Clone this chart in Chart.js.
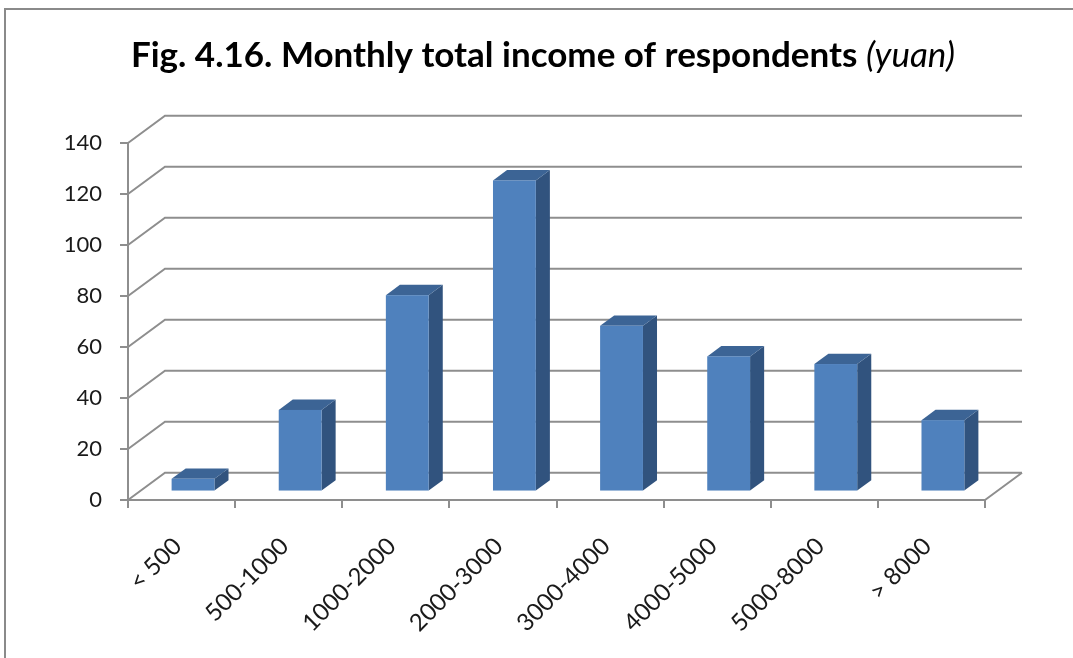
<!DOCTYPE html>
<html>
<head>
<meta charset="utf-8">
<script src="https://cdn.jsdelivr.net/npm/chart.js@4/dist/chart.umd.min.js"></script>
<style>
  html, body { margin: 0; padding: 0; background: #ffffff; }
  canvas { display: block; }
</style>
</head>
<body>
<canvas id="incomeChart" width="1073" height="658"></canvas>
<script>
// Monthly total income bands and respondent counts
const incomeBands = ['< 500', '500-1000', '1000-2000', '2000-3000', '3000-4000', '4000-5000', '5000-8000', '> 8000'];
const respondents = [5, 32, 77, 122, 65, 53, 50, 28];
const valueTicks = [0, 20, 40, 60, 80, 100, 120, 140];
const titleMain = 'Fig. 4.16. Monthly total income of respondents';
const titleUnit = '(yuan)';

// Oblique projection used for the walls, floor and bar boxes
const DEPTH = { dx: 37, dy: -27.3 };
const BAR_FRONT = 0.31;
const BAR_BACK = 0.69;
const GRID_COLOR = '#8e8e8e';
const FACE_FRONT = '#4f81bd';
const FACE_TOP = '#3c6495';
const FACE_SIDE = '#31537e';
const LABEL_FONT = 'Lato, "Open Sans", "DejaVu Sans", sans-serif';

const frame = {
  id: 'frame',
  beforeDraw(chart) {
    const ctx = chart.ctx;
    ctx.save();
    ctx.strokeStyle = '#8a8a8a';
    ctx.lineWidth = 2;
    ctx.beginPath();
    ctx.moveTo(5, 700);
    ctx.lineTo(5, 9);
    ctx.lineTo(1100, 9);
    ctx.stroke();
    ctx.restore();
  }
};

const walls = {
  id: 'walls',
  beforeDatasetsDraw(chart) {
    const { ctx, chartArea: a, scales } = chart;
    const y = scales.y;
    ctx.save();
    ctx.strokeStyle = GRID_COLOR;
    ctx.lineWidth = 2;
    ctx.beginPath();
    valueTicks.forEach(v => {
      const py = y.getPixelForValue(v);
      ctx.moveTo(a.left, py);
      ctx.lineTo(a.left + DEPTH.dx, py + DEPTH.dy);
      ctx.lineTo(a.right + DEPTH.dx, py + DEPTH.dy);
    });
    // right edge of the floor
    const base = y.getPixelForValue(0);
    ctx.moveTo(a.right, base);
    ctx.lineTo(a.right + DEPTH.dx, base + DEPTH.dy);
    ctx.stroke();
    ctx.restore();
  }
};

const boxes = {
  id: 'boxes',
  afterDatasetsDraw(chart) {
    const ctx = chart.ctx;
    const meta = chart.getDatasetMeta(0);
    const fx = BAR_FRONT * DEPTH.dx, fy = BAR_FRONT * DEPTH.dy;
    const ddx = (BAR_BACK - BAR_FRONT) * DEPTH.dx, ddy = (BAR_BACK - BAR_FRONT) * DEPTH.dy;
    ctx.save();
    meta.data.forEach(bar => {
      const p = bar.getProps(['x', 'y', 'base', 'width'], true);
      const l = p.x - p.width / 2 + fx;
      const r = l + p.width;
      const t = p.y + fy;
      const b = p.base + fy;
      // side face
      ctx.fillStyle = FACE_SIDE;
      ctx.beginPath();
      ctx.moveTo(r, t);
      ctx.lineTo(r + ddx, t + ddy);
      ctx.lineTo(r + ddx, b + ddy);
      ctx.lineTo(r, b);
      ctx.closePath();
      ctx.fill();
      // top face
      ctx.fillStyle = FACE_TOP;
      ctx.beginPath();
      ctx.moveTo(l, t);
      ctx.lineTo(r, t);
      ctx.lineTo(r + ddx, t + ddy);
      ctx.lineTo(l + ddx, t + ddy);
      ctx.closePath();
      ctx.fill();
      // front face
      ctx.fillStyle = FACE_FRONT;
      ctx.fillRect(l, t, p.width, b - t);
    });
    ctx.restore();
  }
};

const heading = {
  id: 'heading',
  afterDraw(chart) {
    const ctx = chart.ctx;
    const boldFont = 'bold 35px ' + LABEL_FONT;
    const italFont = 'italic 35px ' + LABEL_FONT;
    ctx.save();
    ctx.fillStyle = '#000000';
    ctx.textBaseline = 'alphabetic';
    ctx.font = boldFont;
    const w1 = ctx.measureText(titleMain + ' ').width;
    ctx.font = italFont;
    const w2 = ctx.measureText(titleUnit).width;
    const x0 = 543 - (w1 + w2) / 2;
    ctx.font = boldFont;
    ctx.fillText(titleMain + ' ', x0, 67);
    ctx.font = italFont;
    ctx.fillText(titleUnit, x0 + w1, 67);
    ctx.restore();
  }
};

new Chart(document.getElementById('incomeChart'), {
  type: 'bar',
  data: {
    labels: incomeBands,
    datasets: [{
      label: 'Respondents',
      data: respondents,
      backgroundColor: 'rgba(0,0,0,0)',
      borderWidth: 0,
      categoryPercentage: 1,
      barPercentage: 0.4
    }]
  },
  options: {
    responsive: false,
    animation: false,
    events: [],
    layout: { padding: { top: 143, right: 88, left: 0, bottom: 0 } },
    plugins: {
      legend: { display: false },
      title: { display: false },
      tooltip: { enabled: false }
    },
    scales: {
      x: {
        grid: { display: true, offset: true, drawOnChartArea: false, tickLength: 8, color: GRID_COLOR, lineWidth: 2 },
        border: { display: true, color: GRID_COLOR, width: 2 },
        ticks: {
          autoSkip: false, maxRotation: 45, minRotation: 45, padding: 24, labelOffset: -4,
          color: '#1a1a1a', font: { family: LABEL_FONT, size: 24 }
        },
        afterFit(scale) { scale.height = 158; }
      },
      y: {
        min: 0,
        max: 140,
        afterBuildTicks(scale) { scale.ticks = valueTicks.map(v => ({ value: v })); },
        grid: { display: true, drawOnChartArea: false, tickLength: 8, color: GRID_COLOR, lineWidth: 2 },
        border: { display: true, color: GRID_COLOR, width: 2 },
        ticks: { padding: 18, color: '#1a1a1a', font: { family: LABEL_FONT, size: 22 } },
        afterFit(scale) { scale.width = 128; }
      }
    }
  },
  plugins: [frame, walls, boxes, heading]
});
</script>
</body>
</html>
